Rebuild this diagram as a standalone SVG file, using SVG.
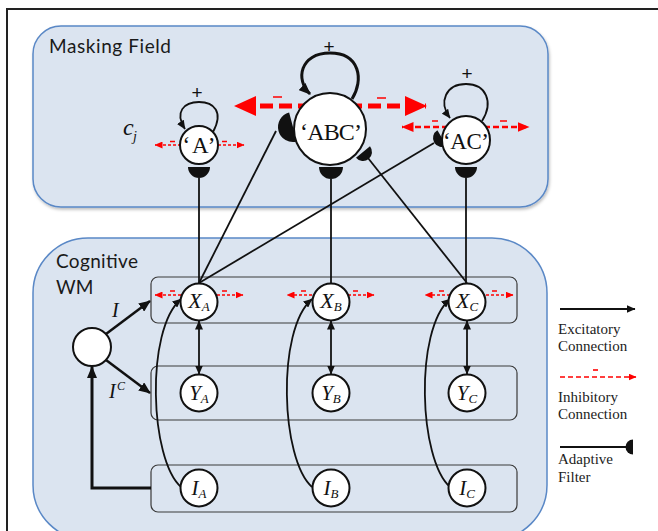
<svg xmlns="http://www.w3.org/2000/svg" width="658" height="531" viewBox="0 0 658 531">
  <style>
    .panel{fill:#dbe4f0;stroke:#5a88c6;stroke-width:1.5}
    .row{fill:none;stroke:#3a3a3a;stroke-width:1.2}
    .node{fill:#fff;stroke:#111;stroke-width:2}
    .title{font-family:Lato,"Open Sans",sans-serif;font-size:19px;fill:#1a1a1a}
    .math{font-family:"Liberation Serif",serif;font-style:italic;fill:#111}
    .quote{font-family:"Liberation Serif",serif;fill:#111;text-anchor:middle}
    .plus{font-family:"Liberation Sans",sans-serif;font-size:19px;fill:#111;text-anchor:middle}
    .legend{font-family:"Liberation Serif",serif;font-size:15px;fill:#222}
    .exc{fill:none;stroke:#111;stroke-width:1.8}
    .inh{fill:none;stroke:#f00}
    .minus{stroke:#f00;stroke-width:1.6}
    .filt{fill:#111}
  </style>
  <defs>
    <filter id="shadow" x="-5%" y="-5%" width="110%" height="115%">
      <feDropShadow dx="1" dy="2" stdDeviation="1.5" flood-color="#000" flood-opacity="0.25"/>
    </filter>
    <!-- half-disc synapse: flat side on the y axis, bulge toward -x -->
    <path id="half" d="M0,-1 A1,1 0 0 0 0,1 Z"/>
    <marker id="ah" markerUnits="userSpaceOnUse" viewBox="0 0 12 10" markerWidth="12" markerHeight="10" refX="11" refY="5" orient="auto-start-reverse">
      <path d="M0,0 L12,5 L0,10 Z" fill="#111"/>
    </marker>
    <marker id="ahs" markerUnits="userSpaceOnUse" viewBox="0 0 9 8" markerWidth="9" markerHeight="8" refX="8.5" refY="4" orient="auto-start-reverse">
      <path d="M0,0 L9,4 L0,8 Z" fill="#111"/>
    </marker>
    <marker id="rs" markerUnits="userSpaceOnUse" viewBox="0 0 8 7" markerWidth="8" markerHeight="7" refX="7.5" refY="3.5" orient="auto">
      <path d="M0,0 L8,3.5 L0,7 Z" fill="#f00"/>
    </marker>
    <marker id="rm" markerUnits="userSpaceOnUse" viewBox="0 0 12 10" markerWidth="12" markerHeight="10" refX="11.5" refY="5" orient="auto">
      <path d="M0,0 L12,5 L0,10 Z" fill="#f00"/>
    </marker>
    <marker id="rb" markerUnits="userSpaceOnUse" viewBox="0 0 22 20" markerWidth="22" markerHeight="20" refX="21" refY="10" orient="auto">
      <path d="M0,0 L22,10 L0,20 Z" fill="#f00"/>
    </marker>
  </defs>

  <rect width="658" height="531" fill="#fff"/>
  <!-- outer frame -->
  <path d="M7,531 V9 H658" fill="none" stroke="#222" stroke-width="2"/>

  <!-- panels -->
  <g id="masking-field">
    <rect class="panel" x="33" y="26" width="515" height="181" rx="28" filter="url(#shadow)"/>
    <text class="title" x="49" y="53" textLength="122">Masking Field</text>
  </g>
  <g id="cognitive-wm">
    <rect class="panel" x="33" y="238" width="514" height="302" rx="55"/>
    <text class="title" x="56" y="268" textLength="82">Cognitive</text>
    <text class="title" x="56" y="294">WM</text>
    <rect class="row" x="151" y="277" width="366" height="46" rx="7"/>
    <rect class="row" x="151" y="366" width="366" height="54" rx="7"/>
    <rect class="row" x="151" y="465" width="366" height="47" rx="7"/>
  </g>

  <!-- connectors -->
  <g id="connectors">
    <!-- adaptive filter pathways -->
    <path class="exc" d="M199,178 V283"/>
    <path class="exc" d="M331,179 V283"/>
    <path class="exc" d="M466,178 V283"/>
    <path class="exc" d="M199,283 L276,131"/>
    <path class="exc" d="M199,283 L434,143"/>
    <path class="exc" d="M467,283 L368,158"/>
    <use href="#half" class="filt" transform="translate(199,167) rotate(-90) scale(11)"/>
    <use href="#half" class="filt" transform="translate(331,167) rotate(-90) scale(12)"/>
    <use href="#half" class="filt" transform="translate(466,167) rotate(-90) scale(11)"/>
    <use href="#half" class="filt" transform="translate(293,127) rotate(-15) scale(15)"/>
    <use href="#half" class="filt" transform="translate(442,138) rotate(-31) scale(9)"/>
    <use href="#half" class="filt" transform="translate(363,152) rotate(-129) scale(9)"/>

    <!-- self excitation loops -->
    <path class="exc" d="M213,132 C224,112 214,102 199,102 C184,102 174,112 185,129" marker-end="url(#ahs)"/>
    <path fill="none" stroke="#111" stroke-width="3" d="M352,99 C364,80 360,53 330,53 C300,53 295,80 310,94" marker-end="url(#ah)"/>
    <path class="exc" stroke-width="2.2" d="M482,121 C494,102 486,84 466,84 C446,84 438,102 450,118" marker-end="url(#ahs)"/>

    <!-- lateral inhibition in the masking field -->
    <path class="inh" stroke-width="1.3" stroke-dasharray="3 2" d="M181,145 H155" marker-end="url(#rs)"/>
    <path class="inh" stroke-width="1.3" stroke-dasharray="3 2" d="M218,145 H244" marker-end="url(#rs)"/>
    <path class="inh" stroke-width="5" stroke-dasharray="13 6" d="M330,106 H235" marker-end="url(#rb)"/>
    <path class="inh" stroke-width="5" stroke-dasharray="13 6" d="M330,106 H426" marker-end="url(#rb)"/>
    <path class="inh" stroke-width="2.4" stroke-dasharray="6 3" d="M466,127 H402" marker-end="url(#rm)"/>
    <path class="inh" stroke-width="2.4" stroke-dasharray="6 3" d="M466,127 H529" marker-end="url(#rm)"/>

    <!-- lateral inhibition in working memory -->
    <path class="inh" stroke-width="1.3" stroke-dasharray="3 2" d="M181,295 H155" marker-end="url(#rs)"/>
    <path class="inh" stroke-width="1.3" stroke-dasharray="3 2" d="M217,295 H243" marker-end="url(#rs)"/>
    <path class="inh" stroke-width="1.3" stroke-dasharray="3 2" d="M312,295 H287" marker-end="url(#rs)"/>
    <path class="inh" stroke-width="1.3" stroke-dasharray="3 2" d="M348,295 H374" marker-end="url(#rs)"/>
    <path class="inh" stroke-width="1.3" stroke-dasharray="3 2" d="M450,295 H425" marker-end="url(#rs)"/>
    <path class="inh" stroke-width="1.3" stroke-dasharray="3 2" d="M486,295 H513" marker-end="url(#rs)"/>

    <!-- X <-> Y links -->
    <path class="exc" d="M199,321 V374" marker-start="url(#ahs)" marker-end="url(#ahs)"/>
    <path class="exc" d="M331,321 V374" marker-start="url(#ahs)" marker-end="url(#ahs)"/>
    <path class="exc" d="M467,321 V374" marker-start="url(#ahs)" marker-end="url(#ahs)"/>

    <!-- item inputs I -> X -->
    <path class="exc" d="M181,487 C150,460 145,330 181,299" marker-end="url(#ahs)"/>
    <path class="exc" d="M312,487 C281,460 276,330 312,299" marker-end="url(#ahs)"/>
    <path class="exc" d="M450,487 C419,460 414,330 450,299" marker-end="url(#ahs)"/>

    <!-- gating node -->
    <path fill="none" stroke="#111" stroke-width="2.5" d="M106,334 L150,301" marker-end="url(#ah)"/>
    <path fill="none" stroke="#111" stroke-width="2.5" d="M106,360 L150,393" marker-end="url(#ah)"/>
    <path fill="none" stroke="#111" stroke-width="3" d="M151,488 H92 V367" marker-end="url(#ah)"/>
  </g>

  <!-- minus signs -->
  <g id="minus-signs">
    <path class="minus" d="M170,141.5 h5 M222,141.5 h5"/>
    <path class="minus" stroke-width="3" d="M273,97 h9 M377,98 h9"/>
    <path class="minus" stroke-width="2" d="M432,121 h6 M500,121 h7"/>
    <path class="minus" d="M170,291 h5 M222,291 h5 M301,291 h5 M353,291 h5 M439,291 h5 M492,291 h5"/>
  </g>

  <!-- masking field nodes -->
  <g id="node-A">
    <circle class="node" cx="199" cy="145" r="19"/>
    <text class="quote" x="199" y="153" font-size="23" textLength="33">‘A’</text>
  </g>
  <g id="node-ABC">
    <circle class="node" cx="330" cy="129" r="36"/>
    <text class="quote" x="331" y="140" font-size="24" textLength="62">‘ABC’</text>
  </g>
  <g id="node-AC">
    <circle class="node" cx="466" cy="140" r="24"/>
    <text class="quote" x="466" y="149" font-size="23" textLength="46">‘AC’</text>
  </g>
  <text class="plus" x="197" y="99">+</text>
  <text class="plus" x="329" y="53">+</text>
  <text class="plus" x="467" y="80">+</text>
  <g id="label-cj" class="math">
    <text x="123" y="135" font-size="24">c</text>
    <text x="133" y="141" font-size="14">j</text>
  </g>

  <!-- working memory nodes -->
  <g id="node-XA"><circle class="node" cx="199" cy="302" r="18.5"/><text class="math" x="199" y="308" text-anchor="middle"><tspan font-size="22">X</tspan><tspan font-size="13" dy="3">A</tspan></text></g>
  <g id="node-XB"><circle class="node" cx="331" cy="302" r="18.5"/><text class="math" x="331" y="308" text-anchor="middle"><tspan font-size="22">X</tspan><tspan font-size="13" dy="3">B</tspan></text></g>
  <g id="node-XC"><circle class="node" cx="467" cy="302" r="18.5"/><text class="math" x="467" y="308" text-anchor="middle"><tspan font-size="22">X</tspan><tspan font-size="13" dy="3">C</tspan></text></g>
  <g id="node-YA"><circle class="node" cx="199" cy="393" r="18.5"/><text class="math" x="199" y="400" text-anchor="middle"><tspan font-size="21">Y</tspan><tspan font-size="13" dy="3">A</tspan></text></g>
  <g id="node-YB"><circle class="node" cx="331" cy="393" r="18.5"/><text class="math" x="331" y="400" text-anchor="middle"><tspan font-size="21">Y</tspan><tspan font-size="13" dy="3">B</tspan></text></g>
  <g id="node-YC"><circle class="node" cx="467" cy="393" r="18.5"/><text class="math" x="467" y="400" text-anchor="middle"><tspan font-size="21">Y</tspan><tspan font-size="13" dy="3">C</tspan></text></g>
  <g id="node-IA"><circle class="node" cx="199" cy="488" r="18.5"/><text class="math" x="199" y="495" text-anchor="middle"><tspan font-size="21">I</tspan><tspan font-size="13" dy="3">A</tspan></text></g>
  <g id="node-IB"><circle class="node" cx="331" cy="488" r="18.5"/><text class="math" x="331" y="495" text-anchor="middle"><tspan font-size="21">I</tspan><tspan font-size="13" dy="3">B</tspan></text></g>
  <g id="node-IC"><circle class="node" cx="467" cy="488" r="18.5"/><text class="math" x="467" y="495" text-anchor="middle"><tspan font-size="21">I</tspan><tspan font-size="13" dy="3">C</tspan></text></g>
  <g id="node-gate"><circle class="node" cx="92" cy="347" r="19"/></g>
  <text class="math" x="112" y="317" font-size="20">I</text>
  <g class="math"><text x="109" y="398" font-size="20">I</text><text x="117" y="390" font-size="12">C</text></g>

  <!-- legend -->
  <g id="legend">
    <path class="exc" stroke-width="2" d="M560,309 H635" marker-end="url(#ahs)"/>
    <text class="legend" x="558" y="334">Excitatory</text>
    <text class="legend" x="558" y="351">Connection</text>
    <path class="inh" stroke-width="1.6" stroke-dasharray="5 3" d="M560,377 H636" marker-end="url(#rs)"/>
    <path class="minus" d="M593,370 h5"/>
    <text class="legend" x="558" y="402">Inhibitory</text>
    <text class="legend" x="558" y="419">Connection</text>
    <path class="exc" stroke-width="2" d="M560,447 H628"/>
    <use href="#half" class="filt" transform="translate(633,447) scale(7.5)"/>
    <text class="legend" x="558" y="464">Adaptive</text>
    <text class="legend" x="558" y="482">Filter</text>
  </g>
</svg>
